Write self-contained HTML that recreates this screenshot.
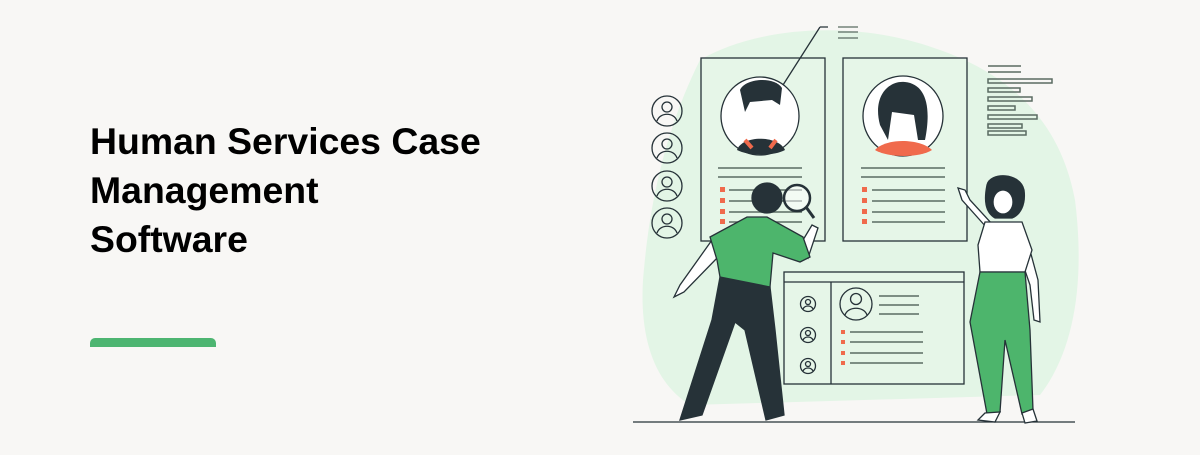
<!DOCTYPE html>
<html><head><meta charset="utf-8"><style>
html,body{margin:0;padding:0;width:1200px;height:455px;overflow:hidden;background:#f8f7f5}
h1{position:absolute;left:90px;top:117px;margin:0;font-family:"Liberation Sans",sans-serif;font-weight:bold;font-size:37.4px;line-height:49px;color:#000;letter-spacing:0}
.bar{position:absolute;left:90px;top:338px;width:126px;height:9px;background:#4db571;border-radius:5px 5px 0 0}
svg{position:absolute;left:0;top:0}
</style></head><body>
<h1>Human Services Case<br>Management<br>Software</h1>
<div class="bar"></div>
<svg width="1200" height="455" viewBox="0 0 1200 455">
<path d="M700,60 C760,25 860,20 940,50 C1010,75 1060,120 1075,200 C1085,280 1075,350 1040,395 L690,405 C650,380 640,330 643,280 C648,220 660,140 700,60Z" fill="#e3f5e6"/>
<g fill="none" stroke="#263238" stroke-width="1.3">
<rect x="701" y="58" width="124" height="183" fill="#e6f6e8"/>
<rect x="843" y="58" width="124" height="183" fill="#e6f6e8"/>
<circle cx="760" cy="116" r="39" fill="#fff"/>
<circle cx="903" cy="116" r="40" fill="#fff"/>
<path d="M820,27 L783,85 M820,27 L828,27"/>
<path d="M838,27H858M838,32H858M838,38H858" stroke="#5a6b62"/>
<g stroke="#5a6b62" stroke-width="1.5"><path d="M718,168H802M718,177H802M729,190H802M729,201H802M729,212H802M729,222H802"/>
<path d="M861,168H945M861,177H945M872,190H945M872,201H945M872,212H945M872,222H945"/>
<path d="M988,66H1021M988,72H1021"/>
<rect x="988" y="79" width="64" height="4"/><rect x="988" y="88" width="32" height="4"/><rect x="988" y="97" width="44" height="4"/><rect x="988" y="106" width="27" height="4"/><rect x="988" y="115" width="49" height="4"/><rect x="988" y="124" width="34" height="4"/><rect x="988" y="131" width="38" height="4"/></g>
<g id="u"><circle cx="667" cy="111" r="15"/><circle cx="667" cy="107" r="5"/><path d="M657,121 C660,112 674,112 677,121"/></g>
<use href="#u" y="37"/><use href="#u" y="75"/><use href="#u" y="112"/>
<rect x="784" y="272" width="180" height="112" fill="#e6f6e8"/>
<path d="M784,282H964M831,282V384"/>
<g id="s"><circle cx="808" cy="304" r="7.5"/><circle cx="808" cy="302" r="2.5"/><path d="M803,309 C805,305 811,305 813,309"/></g>
<use href="#s" y="31"/><use href="#s" y="62"/>
<circle cx="856" cy="304" r="16"/><circle cx="856" cy="299" r="5.5"/><path d="M845,315 C848,306 864,306 867,315"/>
<path d="M879,296H919M879,305H919M879,314H919M850,332H923M850,342H923M850,353H923M850,363H923" stroke="#5a6b62" stroke-width="1.5"/>
<path d="M633,422H1075"/>
</g>
<g fill="#f06a4c"><rect x="720" y="187" width="5" height="5"/><rect x="720" y="198" width="5" height="5"/><rect x="720" y="209" width="5" height="5"/><rect x="720" y="219" width="5" height="5"/>
<rect x="862" y="187" width="5" height="5"/><rect x="862" y="198" width="5" height="5"/><rect x="862" y="209" width="5" height="5"/><rect x="862" y="219" width="5" height="5"/>
<rect x="841" y="330" width="4" height="4"/><rect x="841" y="340" width="4" height="4"/><rect x="841" y="351" width="4" height="4"/><rect x="841" y="361" width="4" height="4"/></g>
<path d="M740,90 C745,78 775,76 782,88 L780,105 L772,100 L750,102 L745,112 Z" fill="#263238"/>
<path d="M737,150 C742,135 778,135 785,150 C775,156 748,156 737,150Z" fill="#263238"/>
<path d="M745,140 L752,148 M776,140 L770,148" stroke="#f06a4c" stroke-width="4"/>
<path d="M880,125 C872,95 890,80 905,82 C925,84 932,105 925,140 L918,140 L914,115 L892,112 L888,140Z" fill="#263238"/>
<path d="M875,150 C885,138 920,138 932,150 C920,158 888,158 875,150Z" fill="#f06a4c"/>
<g stroke="#263238" stroke-width="1.3">
<path d="M720,277L770,287L775,330L784,415L766,420L745,330L735,322L702,415L680,420L712,320Z" fill="#263238"/>
<path d="M712,240 L680,285 L674,297 L684,292 L720,255Z" fill="#fff"/>
<path d="M800,245 L812,225 L818,228 L808,258Z" fill="#fff"/>
<path d="M710,237L747,217L767,217L803,237L810,257L800,262L773,253L770,287L720,277L717,260Z" fill="#4db56c"/>
<circle cx="767" cy="198" r="15" fill="#263238"/>
<circle cx="797" cy="198" r="13" fill="#fff" fill-opacity="0.5" stroke-width="2.5"/>
<path d="M806,207L814,218" stroke-width="3"/>
</g>
<g stroke="#263238" stroke-width="1.3">
<path d="M987,228 L962,200 L958,188 L965,190 L970,200 L993,225Z" fill="#fff"/>
<path d="M1025,232 L1038,280 L1040,322 L1034,320 L1030,285 L1018,250Z" fill="#fff"/>
<path d="M985,222L1022,222L1032,250L1025,272L980,272L978,245Z" fill="#fff"/>
<path d="M980,272L1025,272L1030,330L1033,410L1022,414L1005,340L1000,412L987,414L970,322Z" fill="#4db56c"/>
<path d="M985,413L978,420L995,422L1000,412Z M1022,413L1025,423L1037,421L1033,409Z" fill="#fff"/>
<path d="M987,185 C990,172 1020,172 1024,190 C1026,205 1020,215 1012,218 L995,218 C985,212 984,200 987,185Z" fill="#263238"/>
<ellipse cx="1003" cy="202" rx="10" ry="12" fill="#fff"/>
</g>
</svg>
</body></html>
